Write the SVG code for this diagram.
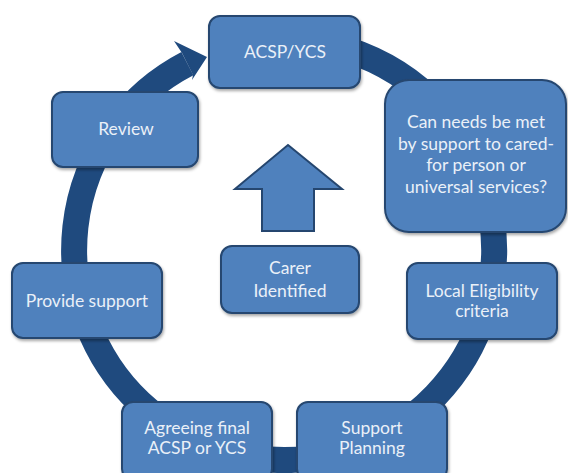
<svg xmlns="http://www.w3.org/2000/svg" width="568" height="473" viewBox="0 0 568 473">
<defs>
<filter id="sh" x="-10%" y="-10%" width="125%" height="130%">
<feDropShadow dx="1" dy="2" stdDeviation="1.5" flood-color="#000" flood-opacity="0.35"/>
</filter>
<style>
.box{fill:#4f81bd;stroke:#25466f;stroke-width:2;filter:url(#sh)}
.t{font-family:Lato,"Liberation Sans",sans-serif;font-size:17.5px;fill:#eaf0f8;text-anchor:middle}
.ring{fill:none;stroke:#1f4a7e;stroke-width:26}
</style>
</defs>
<rect width="568" height="473" fill="#fff"/>
<g id="connectors">
<path class="ring" d="M 265.7 40.8 A 210 210 0 1 1 187.4 63.6"/>
<polygon points="182,53 174,41 207,57 192,80 193,75" fill="#1f4a7e"/>
</g>
<g id="acsp"><rect class="box" x="209" y="16" width="151" height="72" rx="11"/><text class="t" x="285" y="58">ACSP/YCS</text></g>
<g id="canneeds"><rect class="box" x="385" y="80" width="181" height="152" rx="24"/>
<text class="t" x="476" y="128">Can needs be met</text>
<text class="t" x="476" y="150">by support to cared-</text>
<text class="t" x="476" y="171">for person or</text>
<text class="t" x="476" y="193">universal services?</text></g>
<g id="review"><rect class="box" x="52" y="92" width="146" height="75" rx="11"/><text class="t" x="126" y="135">Review</text></g>
<g id="provide"><rect class="box" x="12" y="263" width="150" height="75" rx="11"/><text class="t" x="87" y="307">Provide support</text></g>
<g id="local"><rect class="box" x="407" y="263" width="150" height="76" rx="11"/><text class="t" x="482" y="297">Local Eligibility</text><text class="t" x="482" y="317">criteria</text></g>
<g id="agreeing"><rect class="box" x="122" y="402" width="150" height="78" rx="11"/><text class="t" x="197" y="434">Agreeing final</text><text class="t" x="197" y="454">ACSP or YCS</text></g>
<g id="planning"><rect class="box" x="297" y="402" width="150" height="78" rx="11"/><text class="t" x="372" y="434">Support</text><text class="t" x="372" y="454">Planning</text></g>
<g id="uparrow"><polygon points="288,145 342,189 314,189 314,231 262,231 262,189 235,189" fill="#4f81bd" stroke="#25466f" stroke-width="2"/></g>
<g id="carer"><rect class="box" x="221" y="246" width="138" height="67" rx="11"/><text class="t" x="290" y="274">Carer</text><text class="t" x="290" y="297">Identified</text></g>
</svg>
